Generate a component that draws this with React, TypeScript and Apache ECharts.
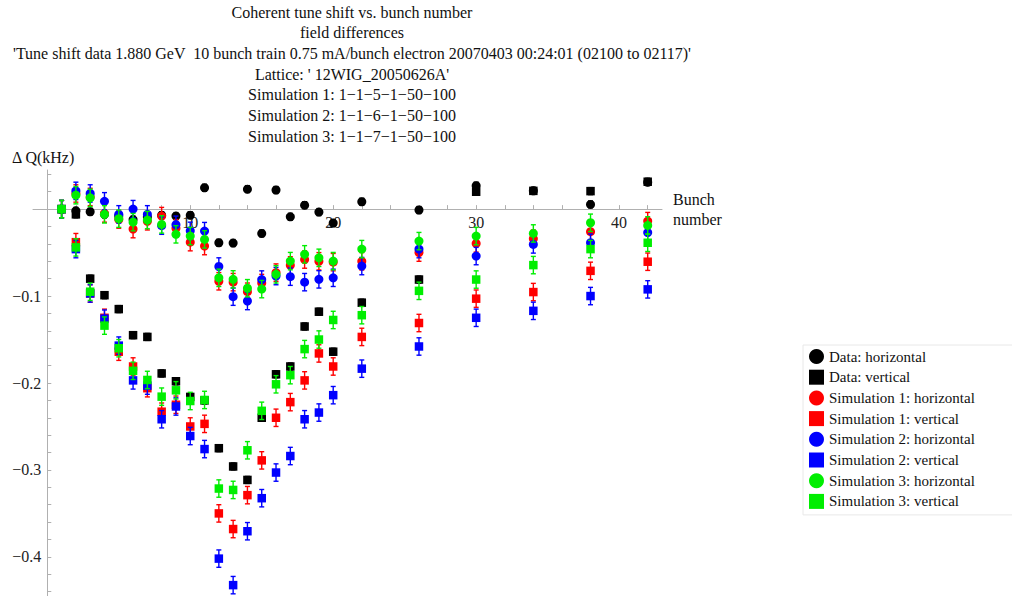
import React, { useEffect, useRef } from "react";
import * as echarts from "echarts";

const titleLines = [
  "Coherent tune shift vs. bunch number",
  "field differences",
  "'Tune shift data 1.880 GeV  10 bunch train 0.75 mA/bunch electron 20070403 00:24:01 (02100 to 02117)'",
  "Lattice: ' 12WIG_20050626A'",
  "Simulation 1: 1\u22121\u22125\u22121\u221250\u2212100",
  "Simulation 2: 1\u22121\u22126\u22121\u221250\u2212100",
  "Simulation 3: 1\u22121\u22127\u22121\u221250\u2212100",
];

const bunches = [1, 2, 3, 4, 5, 6, 7, 8, 9, 10, 11, 12, 13, 14, 15, 16, 17, 18, 19, 20, 22, 26, 30, 34, 38, 42];

const dataH = [0, -0.002, -0.003, -0.006, -0.008, -0.012, -0.009, -0.007, -0.008, -0.007, 0.0246, -0.0387, -0.039, 0.023, -0.028, 0.022, -0.0088, 0.0045, -0.0034, -0.016, 0.0085, -0.001, 0.027, 0.021, 0.0054, 0.031];
const dataV = [0, -0.006, -0.08, -0.099, -0.115, -0.145, -0.147, -0.189, -0.198, -0.216, -0.22, -0.275, -0.296, -0.3115, -0.24, -0.19, -0.181, -0.135, -0.118, -0.164, -0.1076, -0.081, 0.02, 0.021, 0.0207, 0.0315];
const sim1H = [0, 0.018, 0.014, -0.005, -0.012, -0.023, -0.014, -0.008, -0.022, -0.038, -0.0425, -0.083, -0.084, -0.095, -0.085, -0.073, -0.0647, -0.058, -0.06, -0.061, -0.06, -0.05, -0.0394, -0.034, -0.026, -0.0138];
const sim1V = [0, -0.038, -0.097, -0.125, -0.164, -0.181, -0.206, -0.233, -0.225, -0.25, -0.247, -0.35, -0.368, -0.329, -0.289, -0.24, -0.222, -0.197, -0.166, -0.181, -0.147, -0.131, -0.103, -0.0954, -0.071, -0.0605];
const sim2H = [0, 0.021, 0.018, 0.009, -0.006, 0.0, -0.006, -0.019, -0.018, -0.025, -0.0253, -0.066, -0.1007, -0.1057, -0.081, -0.077, -0.0777, -0.084, -0.0808, -0.079, -0.0655, -0.046, -0.054, -0.0406, -0.0387, -0.027];
const sim2V = [0, -0.046, -0.097, -0.126, -0.157, -0.197, -0.203, -0.2417, -0.227, -0.261, -0.276, -0.402, -0.4325, -0.3705, -0.3325, -0.303, -0.284, -0.2417, -0.234, -0.214, -0.1835, -0.158, -0.125, -0.117, -0.1, -0.0923];
const sim3H = [0, 0.016, 0.013, -0.006, -0.011, -0.015, -0.0126, -0.0176, -0.029, -0.031, -0.0348, -0.079, -0.0808, -0.091, -0.092, -0.075, -0.0598, -0.052, -0.056, -0.0598, -0.046, -0.0368, -0.031, -0.028, -0.0157, -0.0187];
const sim3V = [0, -0.044, -0.095, -0.134, -0.16, -0.186, -0.1965, -0.2157, -0.2084, -0.2207, -0.2195, -0.3214, -0.323, -0.2774, -0.232, -0.2015, -0.191, -0.161, -0.15, -0.1275, -0.122, -0.094, -0.081, -0.0644, -0.046, -0.0387];

const dataErr = 0.004;
const simErr = 0.01;

const xMin = -1;
const xMax = 43;
const yMin = -0.445;
const yMax = 0.045;
const xTickValues = [2, 4, 6, 8, 10, 12, 14, 16, 18, 20, 22, 24, 26, 28, 30, 32, 34, 36, 38, 40, 42];
const xTickLabels = [10, 20, 30, 40];
const yTickValues = [-0.44, -0.42, -0.4, -0.38, -0.36, -0.34, -0.32, -0.3, -0.28, -0.26, -0.24, -0.22, -0.2, -0.18, -0.16, -0.14, -0.12, -0.1, -0.08, -0.06, -0.04, -0.02, 0.02, 0.04];
const yTickLabels = [-0.4, -0.3, -0.2, -0.1];

const FONT = "'Liberation Serif', 'DejaVu Serif', serif";

type S = { name: string; vals: number[]; color: string; symbol: string; err: number };
const seriesDefs: S[] = [
  { name: "Data: horizontal", vals: dataH, color: "#000000", symbol: "circle", err: dataErr },
  { name: "Data: vertical", vals: dataV, color: "#000000", symbol: "rect", err: dataErr },
  { name: "Simulation 1: horizontal", vals: sim1H, color: "#ff0000", symbol: "circle", err: simErr },
  { name: "Simulation 1: vertical", vals: sim1V, color: "#ff0000", symbol: "rect", err: simErr },
  { name: "Simulation 2: horizontal", vals: sim2H, color: "#0000ff", symbol: "circle", err: simErr },
  { name: "Simulation 2: vertical", vals: sim2V, color: "#0000ff", symbol: "rect", err: simErr },
  { name: "Simulation 3: horizontal", vals: sim3H, color: "#00ee00", symbol: "circle", err: simErr },
  { name: "Simulation 3: vertical", vals: sim3V, color: "#00ee00", symbol: "rect", err: simErr },
];

const GRID = { left: 33, top: 170, width: 629, height: 426 };

export default function App() {
  const ref = useRef<HTMLDivElement>(null);
  useEffect(() => {
    if (!ref.current) return;
    const chart = echarts.init(ref.current, null, { renderer: "svg" });
    const series: any[] = [];
    seriesDefs.forEach((d, k) => {
      const pts = bunches.map((b, i) => [b, d.vals[i]]);
      series.push({
        type: "custom",
        name: d.name + " err",
        silent: true,
        z: 2 + k * 2,
        data: pts,
        renderItem: (params: any, api: any) => {
          const x = api.value(0);
          const y = api.value(1);
          const top = api.coord([x, y + d.err]);
          const bot = api.coord([x, y - d.err]);
          const c = 2.5;
          const st = { stroke: d.color, lineWidth: 1.4 };
          return {
            type: "group",
            children: [
              { type: "line", shape: { x1: top[0], y1: top[1], x2: bot[0], y2: bot[1] }, style: st },
              { type: "line", shape: { x1: top[0] - c, y1: top[1], x2: top[0] + c, y2: top[1] }, style: st },
              { type: "line", shape: { x1: bot[0] - c, y1: bot[1], x2: bot[0] + c, y2: bot[1] }, style: st },
            ],
          };
        },
      });
      series.push({
        type: "scatter",
        name: d.name,
        symbol: d.symbol,
        symbolSize: d.symbol === "circle" ? 9 : 8.5,
        itemStyle: { color: d.color, opacity: 1 },
        z: 3 + k * 2,
        data: pts,
      });
    });

    // offsets that move each axis onto the other's zero
    const xOffset = -(GRID.height * (0 - yMin)) / (yMax - yMin);
    const yOffset = -(GRID.width * (0 - xMin)) / (xMax - xMin);

    chart.setOption({
      animation: false,
      backgroundColor: "#ffffff",
      grid: GRID,
      xAxis: {
        type: "value",
        min: xMin,
        max: xMax,
        position: "bottom",
        offset: xOffset,
        axisLine: { onZero: false, lineStyle: { color: "#b0b0b0", width: 1 } },
        axisTick: { show: true, inside: true, length: 4, customValues: xTickValues, lineStyle: { color: "#b0b0b0" } },
        axisLabel: {
          customValues: xTickLabels,
          fontFamily: FONT,
          fontSize: 16,
          color: "#222",
          margin: 5,
        },
        splitLine: { show: false },
      },
      yAxis: {
        type: "value",
        min: yMin,
        max: yMax,
        position: "left",
        offset: yOffset,
        axisLine: { onZero: false, lineStyle: { color: "#b0b0b0", width: 1 } },
        axisTick: { show: true, inside: true, length: 4, customValues: yTickValues, lineStyle: { color: "#b0b0b0" } },
        axisLabel: {
          customValues: yTickLabels,
          fontFamily: FONT,
          fontSize: 16,
          color: "#222",
          margin: 6,
          formatter: (v: number) => v.toFixed(1).replace("-", "\u2212"),
        },
        splitLine: { show: false },
      },
      legend: {
        orient: "vertical",
        left: 803,
        top: 345,
        itemWidth: 15,
        itemHeight: 15,
        itemGap: 5.7,
        padding: [4, 40, 6, 6],
        borderColor: "#e8e8e8",
        borderWidth: 1,
        textStyle: { fontFamily: FONT, fontSize: 15, color: "#111" },
        data: seriesDefs.map((d) => d.name),
      },
      graphic: [
        ...titleLines.map((t, i) => ({
          type: "text",
          x: 352,
          y: 12 + i * 20.7,
          style: {
            text: t,
            fontFamily: FONT,
            fontSize: 16,
            fill: "#111",
            textAlign: "center",
            textVerticalAlign: "middle",
          },
        })),
        {
          type: "text",
          x: 12,
          y: 157,
          style: { text: "\u0394 Q(kHz)", fontFamily: FONT, fontSize: 16, fill: "#111", textVerticalAlign: "middle" },
        },
        {
          type: "text",
          x: 673,
          y: 199,
          style: { text: "Bunch", fontFamily: FONT, fontSize: 16, fill: "#111", textVerticalAlign: "middle" },
        },
        {
          type: "text",
          x: 673,
          y: 219,
          style: { text: "number", fontFamily: FONT, fontSize: 16, fill: "#111", textVerticalAlign: "middle" },
        },
      ],
      series,
    });
    return () => chart.dispose();
  }, []);
  return (
    <div
      ref={ref}
      style={{ position: "fixed", left: 0, top: 0, width: 1012, height: 596, background: "#fff" }}
    />
  );
}
